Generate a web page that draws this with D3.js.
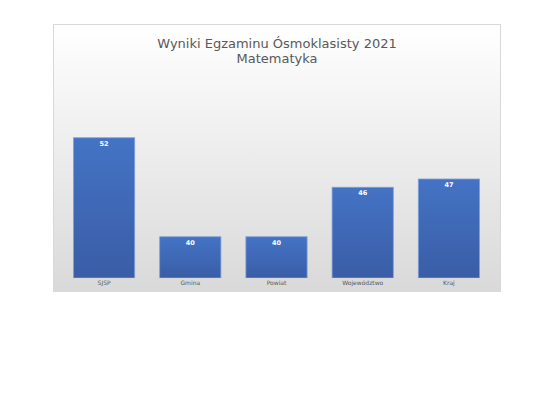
<!DOCTYPE html>
<html><head><meta charset="utf-8">
<script src="https://cdn.jsdelivr.net/npm/d3@7"></script>
<style>body{margin:0;background:#fff}text{font-family:"DejaVu Sans",sans-serif}</style>
</head><body>
<svg id="chart" width="555" height="400"></svg>
<script>
var categories = ["SJSP", "Gmina", "Powiat", "Województwo", "Kraj"];
var values = [52, 40, 40, 46, 47];
var title = ["Wyniki Egzaminu Ósmoklasisty 2021", "Matematyka"];

var svg = d3.select("#chart");
var defs = svg.append("defs");
var bg = defs.append("linearGradient").attr("id", "bg").attr("x1", 0).attr("y1", 0).attr("x2", 0).attr("y2", 1);
bg.append("stop").attr("offset", "0%").attr("stop-color", "#ffffff");
bg.append("stop").attr("offset", "100%").attr("stop-color", "#d9d9d9");
var bar = defs.append("linearGradient").attr("id", "bar").attr("x1", 0).attr("y1", 0).attr("x2", 0).attr("y2", 1);
bar.append("stop").attr("offset", "0%").attr("stop-color", "#4473c5");
bar.append("stop").attr("offset", "100%").attr("stop-color", "#3a5da6");

svg.append("rect").attr("x", 53.5).attr("y", 24.5).attr("width", 447).attr("height", 267)
    .attr("fill", "url(#bg)").attr("stroke", "#d9d9d9");

svg.append("text").attr("x", 277).attr("y", 48).attr("text-anchor", "middle")
    .attr("font-size", 13).attr("fill", "#595959")
    .selectAll("tspan").data(title).join("tspan")
    .attr("x", 277).attr("dy", function (d, i) { return i ? 15 : 0; }).text(function (d) { return d; });

var x = d3.scaleBand().domain(categories).range([61, 492]).paddingInner(0.29).paddingOuter(0.145);
var y = d3.scaleLinear().domain([35, 55]).range([278, 113]);

svg.append("g").selectAll("rect").data(values).join("rect")
    .attr("x", function (d, i) { return x(categories[i]); })
    .attr("y", function (d) { return y(d); })
    .attr("width", x.bandwidth())
    .attr("height", function (d) { return y(35) - y(d); })
    .attr("fill", "url(#bar)").attr("stroke", "#7f9fd9").attr("stroke-width", 0.8);

svg.append("g").selectAll("text").data(values).join("text")
    .attr("x", function (d, i) { return x(categories[i]) + x.bandwidth() / 2; })
    .attr("y", function (d) { return y(d) + 8; })
    .attr("text-anchor", "middle").attr("font-size", 6.5).attr("font-weight", "bold")
    .attr("fill", "#fff").text(function (d) { return d; });

svg.append("line").attr("x1", 61).attr("x2", 492).attr("y1", 278.5).attr("y2", 278.5).attr("stroke", "#d9d9d9");

svg.append("g").selectAll("text").data(categories).join("text")
    .attr("x", function (d) { return x(d) + x.bandwidth() / 2; })
    .attr("y", 285).attr("text-anchor", "middle").attr("font-size", 6)
    .attr("fill", "#595959").text(function (d) { return d; });
</script>
</body></html>
